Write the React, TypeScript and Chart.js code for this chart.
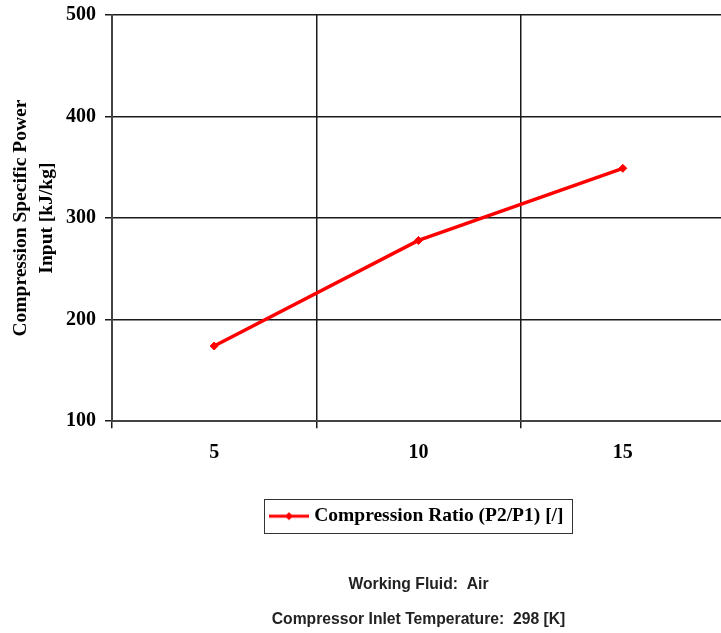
import React, { useEffect, useRef } from "react";
import { Chart, registerables } from "chart.js";

Chart.register(...registerables);

const categories = ["5", "10", "15"];
const specificPower = [174, 278, 349];
const yTicks = [100, 200, 300, 400, 500];
const seriesLabel = "Compression Ratio (P2/P1) [/]";
const yTitle = ["Compression Specific Power", "Input [kJ/kg]"];
const noteFluid = "Working Fluid:  Air";
const noteTemp = "Compressor Inlet Temperature:  298 [K]";

const SERIF = "'Liberation Serif', 'Times New Roman', serif";
const SANS = "'Liberation Sans', Arial, sans-serif";
const GRID = "#1a1a1a";
const AXIS = "#444";
const RED = "#ff0000";

function makeLegendMarker(): HTMLCanvasElement {
  const c = document.createElement("canvas");
  c.width = 40;
  c.height = 10;
  const g = c.getContext("2d")!;
  g.strokeStyle = RED;
  g.lineWidth = 3;
  g.beginPath();
  g.moveTo(0, 5);
  g.lineTo(40, 5);
  g.stroke();
  g.fillStyle = RED;
  g.beginPath();
  g.moveTo(20, 1);
  g.lineTo(24, 5);
  g.lineTo(20, 9);
  g.lineTo(16, 5);
  g.closePath();
  g.fill();
  return c;
}

const legendBorder = {
  id: "legendBorder",
  afterDraw(chart: any) {
    const lg = chart.legend;
    if (!lg || !lg.legendHitBoxes || !lg.legendHitBoxes.length) return;
    const hb = lg.legendHitBoxes[0];
    const ctx = chart.ctx;
    ctx.save();
    ctx.strokeStyle = "#333";
    ctx.lineWidth = 1;
    ctx.strokeRect(
      Math.round(hb.left - 9.5) + 0.5,
      Math.round(hb.top - 7) + 0.5,
      Math.round(hb.width + 18),
      Math.round(hb.height + 14)
    );
    ctx.restore();
  },
};

export default function App() {
  const ref = useRef<HTMLCanvasElement>(null);

  useEffect(() => {
    if (!ref.current) return;
    const marker = makeLegendMarker();
    const chart = new Chart(ref.current, {
      type: "line",
      data: {
        labels: categories,
        datasets: [
          {
            label: seriesLabel,
            data: specificPower,
            borderColor: RED,
            backgroundColor: RED,
            borderWidth: 3.5,
            pointStyle: "rectRot",
            pointRadius: 4,
            pointBorderWidth: 1,
            pointBackgroundColor: RED,
            pointBorderColor: RED,
            tension: 0,
          },
        ],
      },
      options: {
        animation: false,
        responsive: false,
        devicePixelRatio: 1,
        layout: { padding: { left: 0, right: 4.5, top: 15, bottom: 0 } },
        scales: {
          x: {
            type: "category",
            offset: true,
            grid: {
              offset: true,
              color: GRID,
              lineWidth: 1.5,
              drawTicks: true,
              tickLength: 7,
            },
            border: { color: AXIS, width: 2 },
            ticks: {
              color: "#000",
              padding: 13,
              font: { family: SERIF, size: 20, weight: "bold" },
              maxRotation: 0,
            },
            afterFit(scale: any) {
              scale.height = 75.25;
            },
          },
          y: {
            min: 100,
            max: 500,
            afterBuildTicks(scale: any) {
              scale.ticks = yTicks.map((v) => ({ value: v }));
            },
            grid: {
              color: GRID,
              lineWidth: 1.5,
              drawTicks: true,
              tickLength: 7,
            },
            border: { color: AXIS, width: 2 },
            ticks: {
              color: "#000",
              padding: 9,
              font: { family: SERIF, size: 20, weight: "bold" },
            },
            title: {
              display: true,
              text: yTitle,
              color: "#000",
              padding: { top: 8, bottom: 0 },
              font: { family: SERIF, size: 19.5, weight: "bold", lineHeight: 1.33 },
            },
            afterFit(scale: any) {
              scale.width = 112;
              scale.paddingTop = 0;
              scale.paddingBottom = 0;
            },
          },
        },
        plugins: {
          legend: {
            position: "bottom",
            fullSize: false,
            labels: {
              color: "#000",
              padding: 10,
              usePointStyle: true,
              pointStyleWidth: 31,
              font: { family: SERIF, size: 19.5, weight: "bold" },
              generateLabels: (ch: any) =>
                ch.data.datasets.map((ds: any, i: number) => ({
                  text: ds.label,
                  pointStyle: marker,
                  fillStyle: RED,
                  strokeStyle: RED,
                  lineWidth: 0,
                  hidden: false,
                  datasetIndex: i,
                  fontColor: "#000",
                })),
            },
          },
          subtitle: {
            display: true,
            position: "bottom",
            fullSize: false,
            text: noteFluid,
            color: "#222",
            font: { family: SANS, size: 15.7, weight: "bold", lineHeight: 1.2 },
            padding: { top: 39.8, bottom: 8 },
          },
          title: {
            display: true,
            position: "bottom",
            fullSize: false,
            text: noteTemp,
            color: "#222",
            font: { family: SANS, size: 15.7, weight: "bold", lineHeight: 1.2 },
            padding: { top: 8, bottom: 3.6 },
          },
          tooltip: { enabled: false },
        },
      },
      plugins: [legendBorder],
    });
    return () => chart.destroy();
  }, []);

  return (
    <div
      style={{
        position: "absolute",
        left: 0,
        top: 0,
        width: 721,
        height: 633,
        overflow: "hidden",
        background: "#fff",
      }}
    >
      <canvas ref={ref} width={730} height={633} style={{ display: "block" }} />
    </div>
  );
}
